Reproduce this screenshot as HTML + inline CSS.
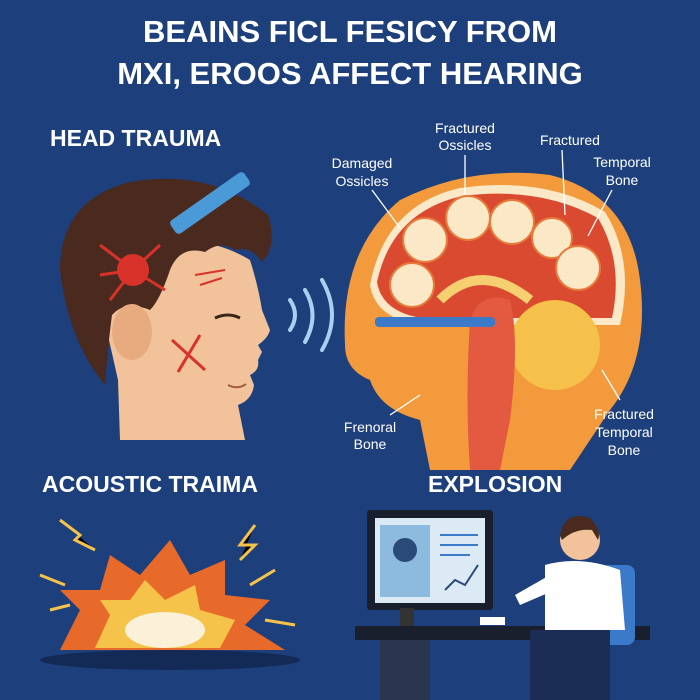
<!DOCTYPE html>
<html><head><meta charset="utf-8"><style>
html,body{margin:0;padding:0;background:#1d3f7b;}
svg{display:block}
text{font-family:"Liberation Sans",sans-serif;fill:#fff}
.t{font-weight:bold;font-size:31px;text-anchor:middle}
.h{font-weight:bold;font-size:23px}
.l{font-size:14px;text-anchor:middle}
</style></head><body>
<svg width="700" height="700" viewBox="0 0 700 700">
<rect width="700" height="700" fill="#1d3f7b"/>
<text class="t" x="350" y="42">BEAINS FICL FESICY FROM</text>
<text class="t" x="350" y="84">MXI, EROOS AFFECT HEARING</text>
<text class="h" x="50" y="146">HEAD TRAUMA</text>
<text class="h" x="42" y="492">ACOUSTIC TRAIMA</text>
<text class="h" x="428" y="492">EXPLOSION</text>

<!-- head -->
<path d="M100 300 L118 380 L120 440 L245 440 L238 405 Q252 400 254 385 L250 375 Q260 370 258 360 L262 352 L258 345 Q268 338 270 330 L262 310 Q258 285 250 260 Q200 230 150 250 Q110 265 100 300 Z" fill="#f2c39a"/>
<path d="M60 270 Q60 200 130 182 Q210 168 268 215 Q278 245 262 262 Q250 245 235 250 Q220 240 205 252 Q180 245 170 270 Q160 300 150 310 Q125 300 112 315 Q108 345 105 385 Q68 340 60 270 Z" fill="#4a2a1e"/>
<ellipse cx="132" cy="332" rx="20" ry="28" fill="#e8ab80"/>
<circle cx="133" cy="270" r="16" fill="#d8322a"/>
<g stroke="#d8322a" stroke-width="3"><line x1="133" y1="270" x2="100" y2="245"/><line x1="133" y1="270" x2="110" y2="300"/><line x1="133" y1="270" x2="160" y2="245"/><line x1="133" y1="270" x2="100" y2="275"/><line x1="133" y1="270" x2="165" y2="290"/></g>
<path d="M172 340 L205 370 M200 335 L178 372" stroke="#d8322a" stroke-width="3"/>
<path d="M195 275 L225 270 M200 285 L222 278" stroke="#d8322a" stroke-width="2"/>
<path d="M215 318 Q228 312 240 318" stroke="#3a2418" stroke-width="3" fill="none"/>
<path d="M228 385 Q238 390 246 384" stroke="#a05a40" stroke-width="2" fill="none"/>
<rect x="165" y="195" width="90" height="16" rx="4" fill="#4a9ad8" transform="rotate(-35 210 203)"/>
<!-- sound waves -->
<g fill="none" stroke="#a9d0f0" stroke-width="4" stroke-linecap="round"><path d="M290 300 Q300 315 290 330"/><path d="M305 290 Q320 315 305 342"/><path d="M322 280 Q342 315 322 350"/></g>
<!-- brain section -->
<path d="M345 345 Q340 250 400 200 Q470 165 550 175 Q630 195 640 280 Q650 360 610 410 L570 470 L430 470 L420 420 Q380 410 370 380 Q345 370 345 345 Z" fill="#f39a3c"/>
<path d="M370 285 Q385 205 460 188 Q545 176 605 212 Q635 260 620 325 L420 325 Q375 318 370 285 Z" fill="#fbe8c6"/>
<path d="M377 282 Q392 212 462 196 Q540 186 598 218 Q624 262 612 318 L422 318 Q382 312 377 282 Z" fill="#d94a30"/>
<g fill="#fbe8c6" stroke="#e67a3a" stroke-width="2">
<circle cx="425" cy="240" r="22"/><circle cx="468" cy="218" r="22"/><circle cx="512" cy="222" r="22"/><circle cx="552" cy="238" r="20"/><circle cx="578" cy="268" r="22"/><circle cx="412" cy="285" r="22"/></g>
<ellipse cx="555" cy="345" rx="45" ry="45" fill="#f6c14a"/>
<path d="M470 320 Q480 290 510 300 Q520 340 510 420 L500 470 L470 470 Q465 400 470 320 Z" fill="#e45a40"/>
<path d="M440 300 Q480 260 530 300" fill="none" stroke="#f6d070" stroke-width="10"/>
<rect x="375" y="317" width="120" height="10" rx="4" fill="#3a7ac8"/>
<g stroke="#fff" stroke-width="1.3"><line x1="372" y1="190" x2="400" y2="228"/><line x1="465" y1="155" x2="465" y2="195"/><line x1="562" y1="150" x2="565" y2="215"/><line x1="612" y1="190" x2="588" y2="236"/><line x1="390" y1="415" x2="420" y2="395"/><line x1="620" y1="400" x2="602" y2="370"/></g>
<text class="l" x="362" y="168">Damaged</text><text class="l" x="362" y="186">Ossicles</text>
<text class="l" x="465" y="133">Fractured</text><text class="l" x="465" y="150">Ossicles</text>
<text class="l" x="570" y="145">Fractured</text>
<text class="l" x="622" y="167">Temporal</text><text class="l" x="622" y="185">Bone</text>
<text class="l" x="370" y="432">Frenoral</text><text class="l" x="370" y="449">Bone</text>
<text class="l" x="624" y="419">Fractured</text><text class="l" x="624" y="437">Temporal</text><text class="l" x="624" y="455">Bone</text>
<!-- explosion -->
<ellipse cx="170" cy="660" rx="130" ry="10" fill="#122a55"/>
<path d="M60 650 L80 610 L60 590 L100 590 L110 555 L140 575 L170 540 L190 575 L225 560 L225 595 L270 600 L245 625 L285 650 Z" fill="#e86a2a"/>
<path d="M95 648 L110 615 L100 600 L130 600 L145 580 L165 600 L195 585 L200 610 L235 620 L220 648 Z" fill="#f6c34a"/>
<ellipse cx="165" cy="630" rx="40" ry="18" fill="#fbf0d8"/>
<g stroke="#f6c34a" stroke-width="3"><path d="M60 520 L80 535 L75 540 L95 550"/><path d="M255 525 L240 545 L255 545 L240 560"/><path d="M40 575 L65 585"/><path d="M275 570 L250 585"/><path d="M265 620 L295 625"/><path d="M50 610 L70 605"/></g>
<!-- doctor scene -->
<rect x="367" y="510" width="126" height="100" rx="3" fill="#1a1f2e"/>
<rect x="375" y="518" width="110" height="85" fill="#dceaf6"/>
<rect x="380" y="525" width="50" height="72" fill="#8dbbe0"/>
<circle cx="405" cy="550" r="12" fill="#2a4a7a"/>
<g stroke="#3a7ac8" stroke-width="2"><line x1="440" y1="535" x2="478" y2="535"/><line x1="440" y1="545" x2="478" y2="545"/><line x1="440" y1="555" x2="470" y2="555"/></g>
<path d="M445 590 L455 580 L465 585 L478 565" stroke="#2a4a7a" stroke-width="2" fill="none"/>
<rect x="400" y="608" width="14" height="18" fill="#333"/>
<rect x="355" y="626" width="295" height="14" fill="#1a1f2e"/>
<rect x="380" y="640" width="50" height="60" fill="#2a3550"/>
<rect x="600" y="565" width="35" height="80" rx="8" fill="#3a7ac8"/>
<circle cx="580" cy="540" r="20" fill="#f2c39a"/>
<path d="M560 535 Q565 510 590 518 Q602 530 598 540 L592 530 Q575 528 562 540 Z" fill="#4a2a1e"/>
<path d="M545 565 Q580 555 620 570 L625 630 L545 630 Z" fill="#fff"/>
<path d="M515 595 L550 575 L555 590 L520 605 Z" fill="#fff"/>
<rect x="530" y="630" width="80" height="70" fill="#1c2d55"/>
<rect x="480" y="617" width="25" height="8" fill="#fff"/>
</svg>
</body></html>
